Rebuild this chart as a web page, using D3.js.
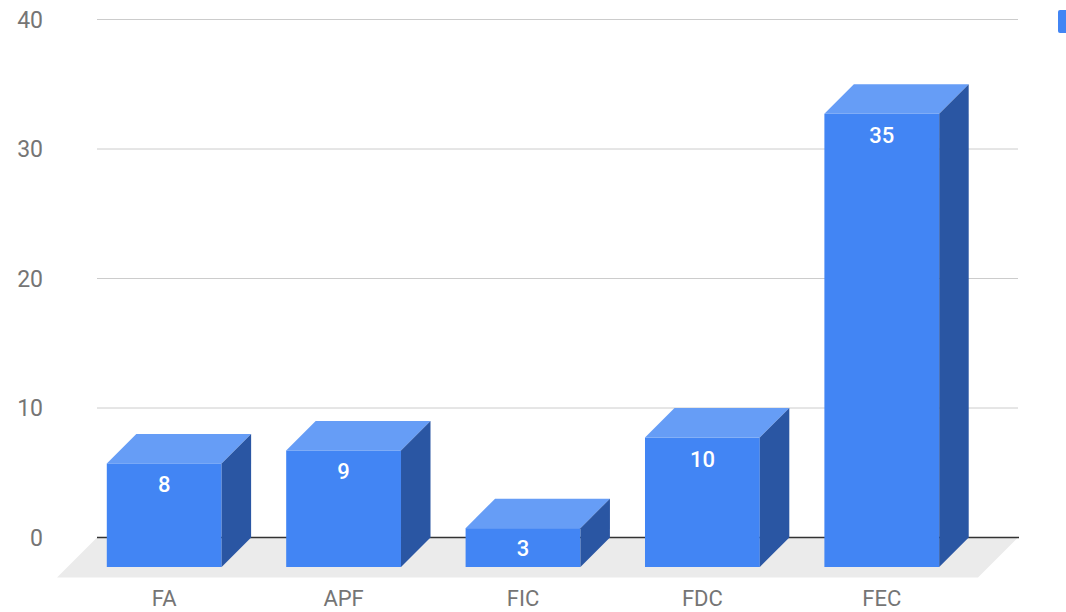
<!DOCTYPE html>
<html>
<head>
<meta charset="utf-8">
<script src="https://cdnjs.cloudflare.com/ajax/libs/d3/7.8.5/d3.min.js"></script>
<style>
  body { margin: 0; background: #fff; }
  text { font-family: Roboto, "Noto Sans", sans-serif; }
</style>
</head>
<body>
<div id="chart"></div>
<script>
// data
var categories = ["FA", "APF", "FIC", "FDC", "FEC"]
var values = [8, 9, 3, 10, 35]
var yTicks = [0, 10, 20, 30, 40]

var width = 1066, height = 612
var depth = 29.5      // bar depth (3d offset)
var floorDepth = 40

var svg = d3.select("#chart").append("svg")
    .attr("width", width)
    .attr("height", height)

// scales are on the back wall
var y = d3.scaleLinear().domain([0, 40]).range([537.5, 19.5])
var x = d3.scaleBand().domain(categories)
    .range([104, 1001])
    .paddingInner(0.36)
    .paddingOuter(0.18)

var plotLeft = 97, plotRight = 1018

// gridlines
svg.append("g").selectAll("line")
    .data(yTicks.filter(function(d){ return d != 0 }))
  .enter().append("line")
    .attr("x1", plotLeft).attr("x2", plotRight)
    .attr("y1", function(d){ return y(d) }).attr("y2", function(d){ return y(d) })
    .style("stroke", "#cccccc")
    .style("stroke-width", 1)

// y labels
svg.append("g").selectAll("text")
    .data(yTicks)
  .enter().append("text")
    .attr("x", 43)
    .attr("y", function(d){ return y(d) })
    .attr("dy", "0.36em")
    .attr("text-anchor", "end")
    .style("font-size", "23px")
    .style("fill", "#757575")
    .text(function(d){ return d })

// floor
var y0 = y(0)
svg.append("polygon")
    .attr("points", [
      [plotLeft, y0], [plotRight, y0],
      [plotRight - floorDepth, y0 + floorDepth], [plotLeft - floorDepth, y0 + floorDepth]
    ].map(function(p){ return p.join(",") }).join(" "))
    .style("fill", "#ebebeb")

// baseline
svg.append("line")
    .attr("x1", plotLeft).attr("x2", plotRight + 1)
    .attr("y1", y0).attr("y2", y0)
    .style("stroke", "#333333")
    .style("stroke-width", 1.3)

// bars
var bars = svg.append("g").selectAll("g")
    .data(categories.map(function(c, i){ return {name: c, value: values[i]} }))
  .enter().append("g")

function pts(arr){ return arr.map(function(p){ return p.join(",") }).join(" ") }

// front face
bars.append("rect")
    .attr("x", function(d){ return x(d.name) - depth })
    .attr("y", function(d){ return y(d.value) + depth })
    .attr("width", x.bandwidth())
    .attr("height", function(d){ return y0 - y(d.value) })
    .style("fill", "#4285f4")

// top face
bars.append("polygon")
    .attr("points", function(d){
      var bx = x(d.name), w = x.bandwidth(), t = y(d.value)
      return pts([[bx - depth, t + depth], [bx + w - depth, t + depth], [bx + w, t], [bx, t]])
    })
    .style("fill", "#669df6")

// side face
bars.append("polygon")
    .attr("points", function(d){
      var bx = x(d.name), w = x.bandwidth(), t = y(d.value)
      return pts([[bx + w - depth, t + depth], [bx + w, t], [bx + w, y0], [bx + w - depth, y0 + depth]])
    })
    .style("fill", "#2a56a3")

// value labels
bars.append("text")
    .attr("x", function(d){ return x(d.name) - depth + x.bandwidth() / 2 })
    .attr("y", function(d){
      var top = y(d.value) + depth, bottom = y0 + depth
      return Math.min(top + 29, (top + bottom) / 2 + 8)
    })
    .attr("text-anchor", "middle")
    .style("font-size", "22px")
    .style("font-weight", "500")
    .style("fill", "#ffffff")
    .text(function(d){ return d.value })

// category labels
svg.append("g").selectAll("text")
    .data(categories)
  .enter().append("text")
    .attr("x", function(d){ return x(d) - depth + x.bandwidth() / 2 })
    .attr("y", 606)
    .attr("text-anchor", "middle")
    .style("font-size", "22px")
    .style("fill", "#757575")
    .text(function(d){ return d })

// legend swatch (its label sits past the right edge)
svg.append("rect")
    .attr("x", 1058).attr("y", 10)
    .attr("width", 23).attr("height", 23)
    .attr("rx", 2)
    .style("fill", "#4285f4")
</script>
</body>
</html>
